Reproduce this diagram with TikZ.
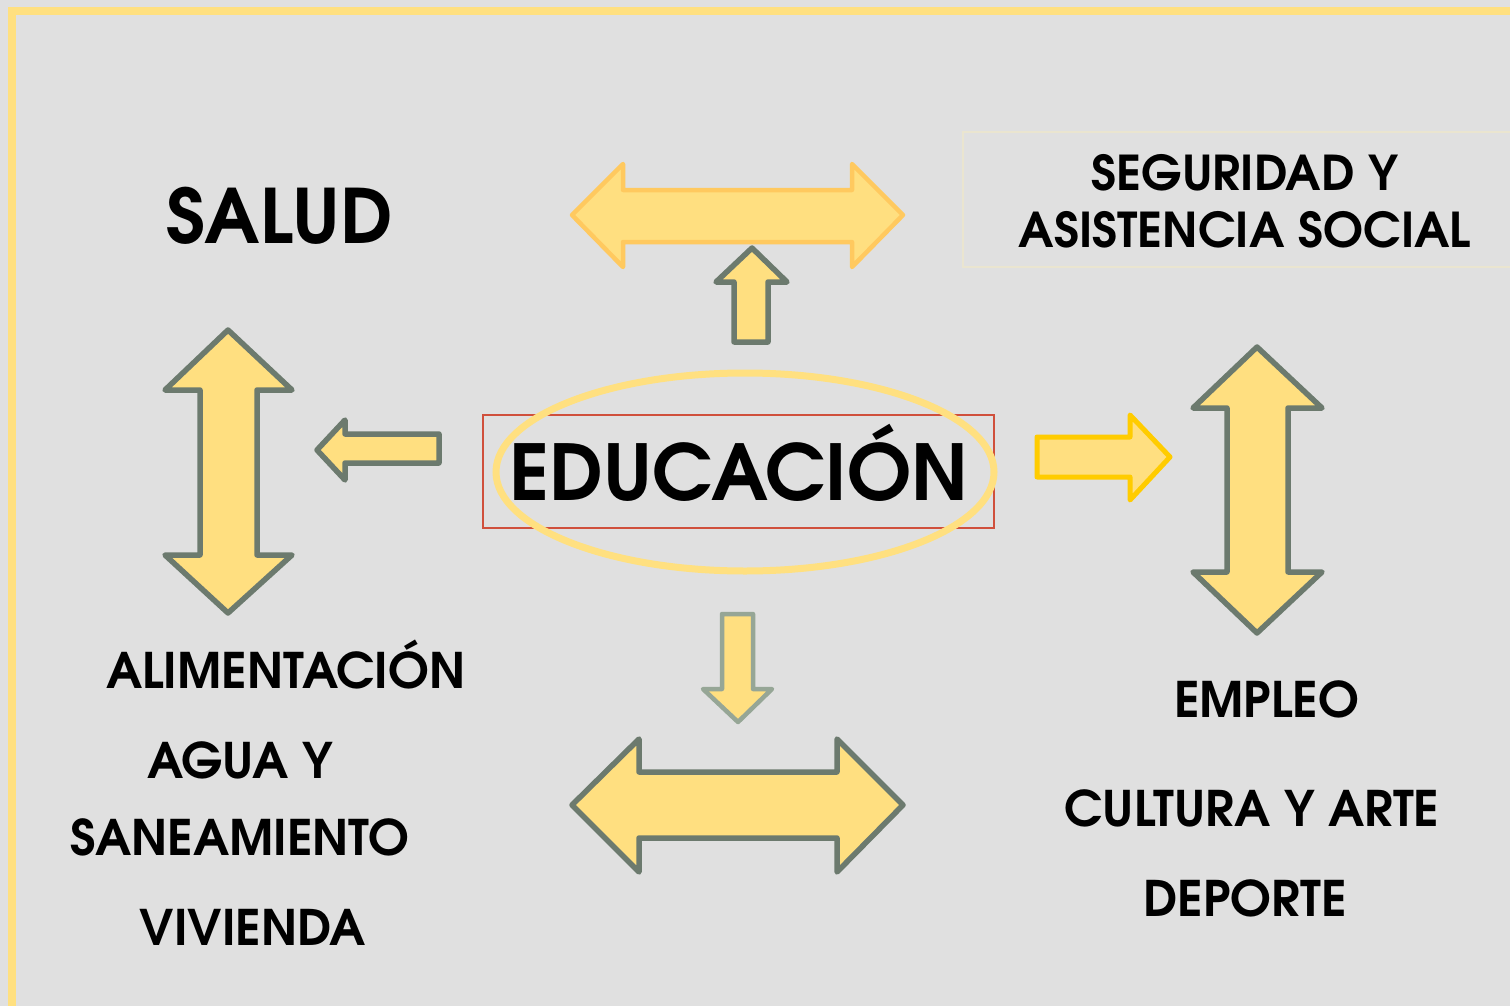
\documentclass[tikz,border=0pt]{standalone}
\usepackage{fontspec}
\setmainfont{texgyreadventor}[Extension=.otf, UprightFont=*-regular, BoldFont=*-bold]
\definecolor{bggray}{RGB}{224,224,224}
\definecolor{frameyellow}{RGB}{255,224,128}
\definecolor{arrowfill}{RGB}{255,223,128}
\definecolor{arrowgray}{RGB}{108,122,110}
\definecolor{lightgray}{RGB}{150,166,150}
\definecolor{softorange}{RGB}{255,201,95}
\definecolor{goldline}{RGB}{255,204,0}
\definecolor{redline}{RGB}{208,80,60}
\definecolor{paleline}{RGB}{234,229,208}
\begin{document}
\begin{tikzpicture}[x=1pt, y=-1pt,
  lbl/.style={inner sep=0pt, anchor=base, align=center,
    font=\bfseries\fontsize{49}{57}\selectfont},
  biglbl/.style={lbl, font=\bfseries\fontsize{75}{84}\selectfont},
  blockarrow/.style={fill=arrowfill, draw=arrowgray, line width=5.5pt, line join=round}]
  \useasboundingbox[fill=bggray] (0,0) rectangle (1510,1006);
  \draw[frameyellow, line width=8pt] (12,11) rectangle (1530,1030);
  \draw[paleline, line width=1.5pt] (963,132) rectangle (1520,267);

  % centro
  \draw[redline, line width=1.5pt] (483,415) rectangle (994,528);
  \draw[frameyellow, line width=7pt] (745,472) ellipse [x radius=249, y radius=99];
  \node[biglbl, font=\bfseries\fontsize{77}{84}\selectfont] (educacion) at (739,500) {EDUCACIÓN};

  % flechas de arriba
  \draw[blockarrow, draw=softorange, line width=4.5pt] (572,215) -- (623,164) -- (623,190) -- (852,190)
    -- (852,164) -- (903,215) -- (852,267) -- (852,242) -- (623,242) -- (623,267) -- cycle;
  \draw[blockarrow] (752,248) -- (787,282) -- (768,282) -- (768,342) -- (734,342) -- (734,282)
    -- (716,282) -- cycle;

  % flechas de la izquierda
  \draw[blockarrow] (228,330) -- (292,390) -- (257,390) -- (257,555) -- (292,555) -- (228,613)
    -- (165,555) -- (200,555) -- (200,390) -- (165,390) -- cycle;
  \draw[blockarrow] (317,450) -- (345,420) -- (345,434) -- (439,434) -- (439,463) -- (345,463)
    -- (345,480) -- cycle;

  % flechas de la derecha
  \draw[blockarrow, draw=goldline, line width=5pt] (1037,437) -- (1130,437) -- (1130,415) -- (1170,457)
    -- (1130,500) -- (1130,477) -- (1037,477) -- cycle;
  \draw[blockarrow] (1257,347) -- (1322,408) -- (1288,408) -- (1288,572) -- (1322,572)
    -- (1257,633) -- (1193,572) -- (1227,572) -- (1227,408) -- (1193,408) -- cycle;

  % flechas de abajo
  \draw[blockarrow, draw=lightgray, line width=4.5pt] (722,614) -- (753,614) -- (753,689) -- (772,689)
    -- (738,722) -- (703,689) -- (722,689) -- cycle;
  \draw[blockarrow] (572,805) -- (639,739) -- (639,772) -- (837,772) -- (837,739) -- (903,805)
    -- (837,872) -- (837,838) -- (639,838) -- (639,872) -- cycle;

  % textos
  \node[biglbl] (salud) at (280,243) {SALUD};
  \node[lbl, font=\bfseries\fontsize{48}{57}\selectfont] (seguridad) at (1245,247) {SEGURIDAD Y\\ASISTENCIA SOCIAL};
  \node[lbl] (alimentacion) at (286,688) {ALIMENTACIÓN};
  \node[lbl, font=\bfseries\fontsize{49}{77}\selectfont] (agua) at (240,855) {AGUA Y\\SANEAMIENTO};
  \node[lbl] (vivienda) at (253,945) {VIVIENDA};
  \node[lbl] (empleo) at (1267,717) {EMPLEO};
  \node[lbl] (cultura) at (1252,826) {CULTURA Y ARTE};
  \node[lbl] (deporte) at (1245,916) {DEPORTE};
\end{tikzpicture}
\end{document}
